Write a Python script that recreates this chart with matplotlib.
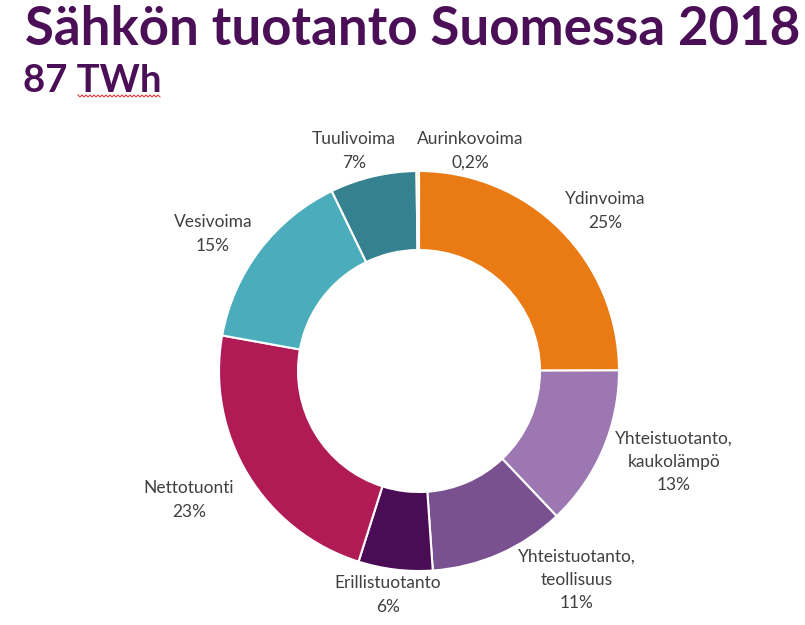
import matplotlib
matplotlib.use("Agg")
import matplotlib.pyplot as plt
import numpy as np

plt.rcParams['font.family'] = ['Lato', 'DejaVu Sans']

# data
sources = ["Ydinvoima", "Yhteistuotanto,\nkaukolämpö", "Yhteistuotanto,\nteollisuus",
           "Erillistuotanto", "Nettotuonti", "Vesivoima", "Tuulivoima", "Aurinkovoima"]
shares = [25, 13, 11, 6, 23, 15, 7, 0.2]
share_labels = ["25%", "13%", "11%", "6%", "23%", "15%", "7%", "0,2%"]
colors = ["#E97A14", "#9D77B2", "#7A5190", "#4A0C55", "#B01B55",
          "#4BACBC", "#358190", "#F2EC5A"]

# label centre points in pie units (radius = 1)
label_pos = [(0.93, 0.80), (1.275, -0.455), (0.79, -1.045), (-0.155, -1.12),
             (-1.15, -0.645), (-1.03, 0.685), (-0.325, 1.10), (0.255, 1.10)]

title = "Sähkön tuotanto Suomessa 2018"
subtitle = "87 TWh"
title_color = "#4B0F57"
text_color = "#404040"

W, H = 805, 625
cx, cy, R = 419, 371, 200

fig = plt.figure(figsize=(W / 100, H / 100), dpi=100)
ax = fig.add_axes([0, 0, 1, 1])
ax.pie(shares, colors=colors, startangle=90, counterclock=False, radius=1,
       wedgeprops=dict(width=0.395, edgecolor="white", linewidth=1.5))
ax.set_xlim(-cx / R, (W - cx) / R)
ax.set_ylim((cy - H) / R, cy / R)
ax.set_aspect("equal")
ax.axis("off")

for name, pct, (x, y) in zip(sources, share_labels, label_pos):
    ax.text(x, y, name + "\n" + pct, ha="center", va="center", fontsize=12.5,
            color=text_color, linespacing=1.55)

fig.text(25 / W, 1 - 45 / H, title, fontsize=38, fontweight="bold",
         color=title_color, ha="left", va="baseline")
fig.text(23 / W, 1 - 92 / H, subtitle, fontsize=27.5, fontweight="bold",
         color=title_color, ha="left", va="baseline")

# spell-check squiggle under "TWh"
sx = np.arange(78, 162, 2)
sy = 96 + np.where(np.arange(len(sx)) % 2 == 0, -1, 1)
fig.add_artist(plt.Line2D(sx / W, 1 - sy / H, color="#E03C3C", linewidth=0.8,
                          transform=fig.transFigure))

fig.savefig("out.png", dpi=100)
